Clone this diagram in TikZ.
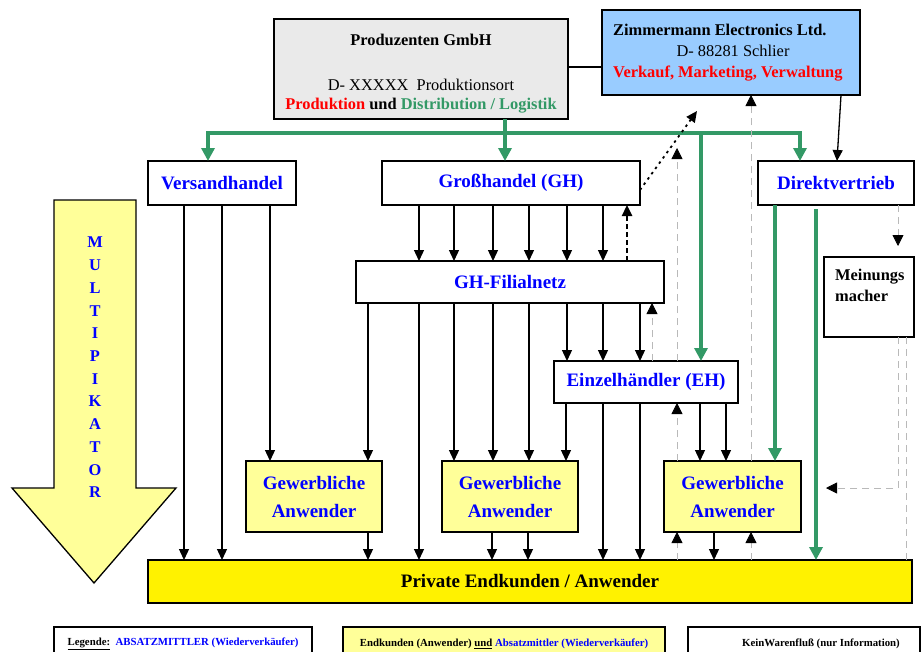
\documentclass[tikz,border=0pt]{standalone}
\usepackage{fontspec}
\setmainfont{Liberation Serif}
\usetikzlibrary{arrows.meta, positioning}
\definecolor{verde}{RGB}{51,153,102}
\definecolor{azulclaro}{RGB}{153,204,255}
\definecolor{amarilloclaro}{RGB}{255,255,153}
\definecolor{grisclaro}{RGB}{234,234,234}
\tikzset{
  caja/.style={draw, line width=1.6pt, inner sep=0pt, outer sep=0pt, fill=white, align=center,
    font=\fontsize{19}{28}\selectfont\bfseries, text=blue},
  gewerbe/.style={caja, fill=amarilloclaro, minimum width=136pt, minimum height=71pt},
  texto/.style={inner sep=0pt, font=\fontsize{16.4}{21}\selectfont},
  leyenda/.style={draw, line width=1.6pt, minimum height=34pt, inner sep=0pt,
    font=\fontsize{10.8}{12}\selectfont\bfseries},
  flecha/.style={-{Triangle[length=11pt,width=10pt]}, line width=1.3pt},
  verdef/.style={-{Triangle[length=13pt,width=13pt]}, line width=3.6pt, draw=verde},
  info/.style={draw=gray!55, line width=0.8pt, dash pattern=on 7pt off 5pt,
    -{Triangle[length=11pt,width=11pt,color=black]}}
}
\begin{document}
\begin{tikzpicture}[x=1pt, y=-1pt]
  \useasboundingbox (0,0) rectangle (924,651);
  \clip (0,0) rectangle (924,651);
  \fill[white] (0,0) rectangle (924,651);
  % Nodos
  \node[caja, fill=grisclaro, minimum width=294pt, minimum height=100pt] (produzenten) at (421,69) {};
  \node[texto, font=\fontsize{16.4}{21}\selectfont\bfseries] (prodtitel) at (421,40) {Produzenten GmbH};
  \node[texto] (prodort) at (421,85) {D- XXXXX\ \ Produktionsort};
  \node[texto, font=\fontsize{16.4}{21}\selectfont\bfseries] (prodaufgabe) at (421,106)
    {\textcolor{red}{Produktion} und \textcolor{verde}{Distribution / Logistik}};
  \node[caja, fill=azulclaro, minimum width=258pt, minimum height=85pt] (zimmermann) at (731,52.5) {};
  \node[texto, anchor=west, font=\fontsize{16.4}{21}\selectfont\bfseries] (zimtitel) at (613,30) {Zimmermann Electronics Ltd.};
  \node[texto] (zimort) at (733,51) {D- 88281 Schlier};
  \node[texto, anchor=west, text=red, font=\fontsize{16.4}{21}\selectfont\bfseries] (zimaufgabe) at (613,74) {Verkauf, Marketing, Verwaltung};
  \node[caja, minimum width=148pt, minimum height=44pt] (versand) at (222,183) {Versandhandel};
  \node[caja, minimum width=258pt, minimum height=44pt] (grosshandel) at (511,183) {Großhandel (GH)};
  \node[caja, minimum width=156pt, minimum height=44pt] (direkt) at (836,183) {Direktvertrieb};
  \node[caja, minimum width=308pt, minimum height=42pt] (filialnetz) at (510,282) {GH-Filialnetz};
  \node[caja, minimum width=184pt, minimum height=42pt] (einzel) at (646,382) {Einzelhändler (EH)};
  \node[caja, minimum width=90pt, minimum height=80pt] (meinung) at (869,297) {};
  \node[texto, anchor=north west, align=left, font=\fontsize{16.4}{21}\selectfont\bfseries] (meintext) at (835,269) {Meinungs\\macher};
  \node[gewerbe] (gew1) at (314,496.5) {Gewerbliche\\Anwender};
  \node[gewerbe] (gew2) at (510,496.5) {Gewerbliche\\Anwender};
  \node[gewerbe, minimum width=137pt] (gew3) at (732.5,496.5) {Gewerbliche\\Anwender};
  \node[caja, fill=yellow, text=black, minimum width=764pt, minimum height=43pt] (privat) at (530,581.5) {Private Endkunden / Anwender};
  % Multiplikator
  \draw[line width=1.3pt, fill=amarilloclaro] (54,200) -- (136,200) -- (136,488) -- (176,488) -- (94,583) -- (12,488) -- (54,488) -- cycle;
  \foreach \l [count=\i] in {M,U,L,T,I,P,I,K,A,T,O,R}
    \node[texto, text=blue, font=\fontsize{16.4}{21}\selectfont\bfseries] (letra\i) at (95,{242.5+22.73*(\i-1)}) {\l};
  % Leyenda
  \node[leyenda, minimum width=258pt] (leyenda1) at (183,644)
    {\underline{Legende:}\ \ \textcolor{blue}{ABSATZMITTLER (Wiederverkäufer)}};
  \node[leyenda, fill=amarilloclaro, minimum width=322pt] (leyenda2) at (504,644)
    {Endkunden (Anwender) \underline{und} \textcolor{blue}{Absatzmittler (Wiederverkäufer)}};
  \node[leyenda, minimum width=232pt] (leyenda3) at (804,644) {};
  \node[texto, font=\fontsize{10.8}{12}\selectfont\bfseries] (leyenda3text) at (821,644) {KeinWarenfluß (nur Information)};
  % Flechas verdes
  \coordinate (verteiler) at (505,133);
  \draw[line width=1.3pt] (produzenten.east |- 0,67) -- (zimmermann.west |- 0,67);
  \draw[verdef] (505,0 |- produzenten.south) -- (505,0 |- grosshandel.north);
  \draw[verdef] (verteiler) -| (208,0 |- versand.north);
  \draw[verdef] (verteiler) -| (800,0 |- direkt.north);
  \draw[verdef] (701,0 |- verteiler) -- (701,0 |- einzel.north);
  \draw[verdef] (775,0 |- direkt.south) -- (775,0 |- gew3.north);
  \draw[verdef, shorten <=4pt] (816,0 |- direkt.south) -- (816,0 |- privat.north);
  % Flechas negras
  \draw[flecha] (841,0 |- zimmermann.south) -- (837,0 |- direkt.north);
  \foreach \x in {184,222}
    \draw[flecha] (\x,0 |- versand.south) -- (\x,0 |- privat.north);
  \draw[flecha] (270,0 |- versand.south) -- (270,0 |- gew1.north);
  \foreach \x in {419,454,493,529,567,603}
    \draw[flecha] (\x,0 |- grosshandel.south) -- (\x,0 |- filialnetz.north);
  \draw[flecha] (368,0 |- filialnetz.south) -- (368,0 |- gew1.north);
  \draw[flecha] (419,0 |- filialnetz.south) -- (419,0 |- privat.north);
  \foreach \x in {454,493,529}
    \draw[flecha] (\x,0 |- filialnetz.south) -- (\x,0 |- gew2.north);
  \foreach \x in {567,603,640}
    \draw[flecha] (\x,0 |- filialnetz.south) -- (\x,0 |- einzel.north);
  \draw[flecha] (566,0 |- einzel.south) -- (566,0 |- gew2.north);
  \foreach \x in {603,640}
    \draw[flecha] (\x,0 |- einzel.south) -- (\x,0 |- privat.north);
  \foreach \x in {700,726}
    \draw[flecha] (\x,0 |- einzel.south) -- (\x,0 |- gew3.north);
  \draw[flecha] (368,0 |- gew1.south) -- (368,0 |- privat.north);
  \foreach \x in {492,528}
    \draw[flecha] (\x,0 |- gew2.south) -- (\x,0 |- privat.north);
  \draw[flecha] (714,0 |- gew3.south) -- (714,0 |- privat.north);
  \draw[flecha, dash pattern=on 5pt off 3pt, line width=2.4pt] (627,0 |- filialnetz.north) -- (627,0 |- grosshandel.south);
  \coordinate (diagende) at (697,111);
  \draw[flecha, dash pattern=on 2.5pt off 4pt, line width=1.8pt] ([yshift=-7pt]grosshandel.east) -- (diagende);
  % Informacion
  \coordinate (infoende) at (677,148);
  \coordinate (meinende) at (826,488);
  \draw[info] (677,0 |- einzel.north) -- (infoende);
  \draw[info] (677,0 |- gew3.north) -- (677,0 |- einzel.south);
  \draw[info] (677,0 |- privat.north) -- (677,0 |- gew3.south);
  \draw[info] (751,0 |- gew3.north) -- (751,0 |- zimmermann.south);
  \draw[info] (751,0 |- privat.north) -- (751,0 |- gew3.south);
  \draw[info] (652,0 |- einzel.north) -- (652,0 |- filialnetz.south);
  \draw[info, shorten >=11pt] (898,0 |- direkt.south) -- (898,0 |- meinung.north);
  \draw[info] (898,0 |- meinung.south) |- (meinende);
  \draw[draw=gray!55, line width=0.8pt, dash pattern=on 7pt off 5pt] (906,0 |- meinung.south) -- (906,0 |- privat.north);
\end{tikzpicture}
\end{document}
